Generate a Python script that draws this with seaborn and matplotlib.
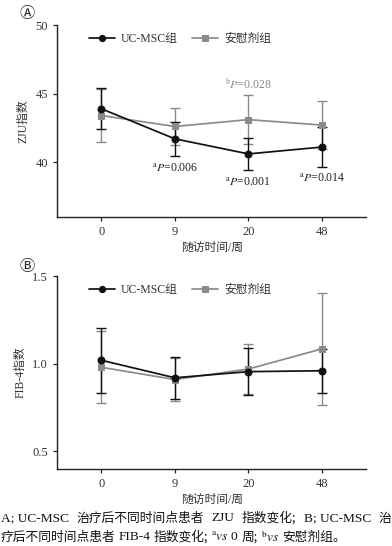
import numpy as np
import pandas as pd
import matplotlib
matplotlib.use("Agg")
import matplotlib.pyplot as plt
import seaborn as sns

# follow-up weeks (categorical x)
weeks = ["0", "9", "20", "48"]
groups = ["UC-MSC组", "安慰剂组"]

# panel A: ZJU index, mean and error
zju_msc = [43.9, 41.7, 40.6, 41.1]
zju_msc_err = [1.5, 1.25, 1.15, 1.45]
zju_pla = [43.4, 42.6, 43.1, 42.7]
zju_pla_err = [1.9, 1.35, 1.8, 1.75]

# panel B: FIB-4 index
fib_msc = [1.02, 0.92, 0.955, 0.96]
fib_msc_err = [0.185, 0.12, 0.135, 0.125]
fib_pla = [0.98, 0.91, 0.97, 1.085]
fib_pla_err = [0.205, 0.12, 0.14, 0.32]

zju_notes = [("a", "0.006", 1, 39.5), ("a", "0.001", 2, 38.5), ("a", "0.014", 3, 38.8)]
zju_note_b = ("b", "0.028", 2, 45.7)

sns.set_style("ticks")
plt.rcParams["font.family"] = ["Liberation Serif", "Noto Sans CJK SC", "DejaVu Sans"]
plt.rcParams["mathtext.fontset"] = "stix"

colors = {"UC-MSC组": "#111111", "安慰剂组": "#8a8a8a"}
markers = {"UC-MSC组": "o", "安慰剂组": "s"}
txt = "#333333"

fig = plt.figure(figsize=(3.92, 5.46), dpi=100)
axA = fig.add_axes([0.1454, 0.6026, 0.789, 0.3516])
axB = fig.add_axes([0.1454, 0.141, 0.789, 0.3535])


def draw(ax, msc, msc_err, pla, pla_err):
    df = pd.DataFrame({
        "week": weeks * 2,
        "value": msc + pla,
        "err": msc_err + pla_err,
        "group": [groups[0]] * 4 + [groups[1]] * 4,
    })
    x = np.arange(len(weeks))
    # placebo drawn first so UC-MSC sits on top
    for g in groups[::-1]:
        sub = df[df.group == g]
        ax.errorbar(x, sub["value"], yerr=sub["err"], fmt="none",
                    ecolor=colors[g], elinewidth=1.0, capsize=3.5, capthick=1.0, zorder=2)
        sns.lineplot(x=x, y=sub["value"].values, ax=ax, color=colors[g],
                     marker=markers[g], markersize=5, markeredgecolor=colors[g],
                     linewidth=1.25, label=g, zorder=3)
    ax.set_xticks(x)
    ax.set_xticklabels(weeks)
    ax.set_xlim(-0.6, 3.6)
    ax.set_xlabel("随访时间/周", fontsize=8.5, color=txt, labelpad=3)
    for s in ["top", "right"]:
        ax.spines[s].set_visible(False)
    for s in ["left", "bottom"]:
        ax.spines[s].set_color("#222222")
        ax.spines[s].set_linewidth(1.0)
    ax.tick_params(labelsize=9, colors="#222222", labelcolor=txt, length=3, width=0.9)
    h, l = ax.get_legend_handles_labels()
    ax.legend(h[::-1], l[::-1], loc="upper left", bbox_to_anchor=(0.07, 1.015), ncol=2,
              frameon=False, fontsize=8.5, handlelength=2.2, columnspacing=1.2,
              labelcolor=txt, handletextpad=0.5, markerscale=0.9)


draw(axA, zju_msc, zju_msc_err, zju_pla, zju_pla_err)
axA.set_ylim(36, 50)
axA.set_yticks([40, 45, 50])
axA.set_ylabel("ZJU指数", fontsize=8.5, color=txt)
for sup, p, xi, yv in zju_notes:
    axA.text(xi, yv, rf"$^{{\mathrm{{{sup}}}}}\mathit{{P}}$=" + p, ha="center", va="center",
             fontsize=8.5, color="#222222")
sup, p, xi, yv = zju_note_b
axA.text(xi, yv, rf"$^{{\mathrm{{{sup}}}}}\mathit{{P}}$=" + p, ha="center", va="center",
         fontsize=8.5, color="#8a8a8a")

draw(axB, fib_msc, fib_msc_err, fib_pla, fib_pla_err)
axB.set_ylim(0.4, 1.5)
axB.set_yticks([0.5, 1.0, 1.5])
axB.set_ylabel("FIB-4指数", fontsize=8.5, color=txt)

fig.text(0.07, 0.975, "Ⓐ", fontsize=11, ha="center", va="center", color="#222222",
         family=["DejaVu Sans", "Noto Sans CJK SC"])
fig.text(0.07, 0.511, "Ⓑ", fontsize=11, ha="center", va="center", color="#222222",
         family=["DejaVu Sans", "Noto Sans CJK SC"])

# caption: Latin parts in serif, Chinese parts in CJK font, placed piece by piece
SER = dict(family=["Liberation Serif"], fontsize=9.6)
CJK = dict(family=["Noto Sans CJK SC"], fontsize=9.2)
line1 = [("A; UC-MSC", SER), ("治疗后不同时间点患者", CJK), ("ZJU", SER),
         ("指数变化;", CJK), ("B; UC-MSC", SER), ("治", CJK)]
line2 = [("疗后不同时间点患者", CJK), ("FIB-4", SER), ("指数变化;", CJK),
         (r"$^{\mathrm{a}}\mathit{vs}$ 0", SER), ("周;", CJK),
         (r"$^{\mathrm{b}}\mathit{vs}$", SER), ("安慰剂组。", CJK)]

fig.canvas.draw()
renderer = fig.canvas.get_renderer()
W = fig.get_figwidth() * fig.dpi


def caption(segs, y, x0, x1=None, gap=3.0):
    items = [fig.text(0, y, s, ha="left", va="center", color="#111111", **kw) for s, kw in segs]
    widths = [t.get_window_extent(renderer).width for t in items]
    if x1 is not None:
        gap = (x1 - x0 - sum(widths)) / (len(items) - 1)
    x = x0
    for t, w in zip(items, widths):
        t.set_x(x / W)
        x += w + gap


caption(line1, 0.051, 1, 391)
caption(line2, 0.0165, 1)

fig.savefig("out.png", dpi=100)
